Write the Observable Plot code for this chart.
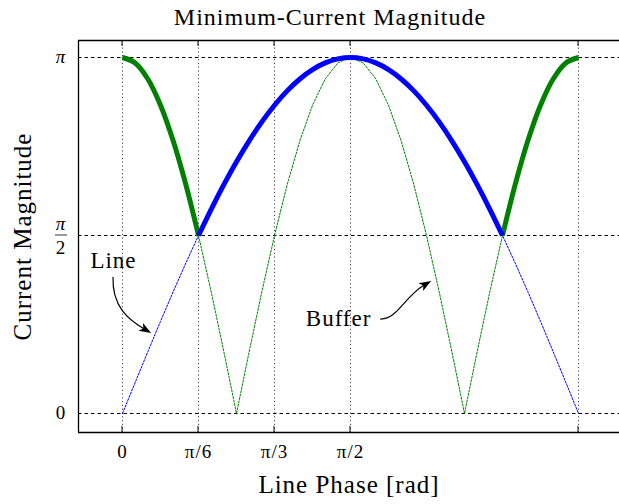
<!DOCTYPE html>
<html>
<head>
<meta charset="utf-8">
<script src="https://cdn.jsdelivr.net/npm/d3@7"></script>
<script src="https://cdn.jsdelivr.net/npm/@observablehq/plot@0.6"></script>
<style>
  html, body { margin: 0; padding: 0; background: #fff; }
  #chart svg { display: block; }
</style>
</head>
<body>
<div id="chart"></div>
<script>
// ---- data (magnitudes in units of π, phase in degrees) ----
const phaseDeg = [0,5,10,15,20,25,30,35,40,45,50,55,60,65,70,75,80,85,90,
                  95,100,105,110,115,120,125,130,135,140,145,150,155,160,165,170,175,180];
const lineMag = [0,0.0872,0.1736,0.2588,0.3420,0.4226,0.5,0.5736,0.6428,0.7071,0.7660,0.8192,0.8660,0.9063,0.9397,0.9659,0.9848,0.9962,1,
                 0.9962,0.9848,0.9659,0.9397,0.9063,0.8660,0.8192,0.7660,0.7071,0.6428,0.5736,0.5,0.4226,0.3420,0.2588,0.1736,0.0872,0];
const bufferMag = [1,0.9848,0.9397,0.8660,0.7660,0.6428,0.5,0.3420,0.1736,0,0.1736,0.3420,0.5,0.6428,0.7660,0.8660,0.9397,0.9848,1,
                   0.9848,0.9397,0.8660,0.7660,0.6428,0.5,0.3420,0.1736,0,0.1736,0.3420,0.5,0.6428,0.7660,0.8660,0.9397,0.9848,1];

const xTicks = [0, 30, 60, 90, 180];
const xTickLabels = ["0", "π/6", "π/3", "π/2", ""];
const yTicks = [0, 0.5, 1];
const yTickLabels = ["0", "π/2", "π"];
const xDomain = [-17.37, 196.18];
const yDomain = [-0.0534, 1.0478];

const titleText = "Minimum-Current Magnitude";
const xLabel = "Line Phase [rad]";
const yLabel = "Current Magnitude";

// annotation labels and arrow control points (data units)
const noteTexts = ["Line", "Buffer"];
const noteX = [-3.55, 85.3];
const noteY = [0.430, 0.267];
const arrowLinePts = [[-3.55, 0.382], [-3.95, 0.300], [2.4, 0.262], [11.5, 0.225]];
const arrowBufferPts = [[101.9, 0.264], [108.6, 0.262], [111.4, 0.326], [122.0, 0.371]];

// ---- derived tables ----
const rows = phaseDeg.map((p, i) => ({phase: p, line: lineMag[i], buffer: bufferMag[i]}));
const thickGreen = rows.map(d => ({phase: d.phase, v: d.buffer >= d.line ? d.buffer : NaN}));
const thickBlue = rows.map(d => ({phase: d.phase, v: d.line >= d.buffer ? d.line : NaN}));

const FONT = "'Liberation Serif', 'DejaVu Serif', serif";

function decorations(index, scales, values, dimensions) {
  const {x, y} = scales;
  const g = d3.create("svg:g");
  const {marginLeft, marginTop, marginBottom, height} = dimensions;
  const top = marginTop, bottom = height - marginBottom;
  // inward x ticks top and bottom
  for (const t of xTicks) {
    const px = x(t);
    g.append("line").attr("x1", px).attr("x2", px).attr("y1", top).attr("y2", top + 6)
      .attr("stroke", "#000").attr("stroke-width", 1);
    g.append("line").attr("x1", px).attr("x2", px).attr("y1", bottom).attr("y2", bottom - 6)
      .attr("stroke", "#000").attr("stroke-width", 1);
  }
  // y tick labels (with stacked fraction)
  yTicks.forEach((t, i) => {
    const py = y(t);
    const lab = yTickLabels[i];
    const cx = marginLeft - 17;
    if (lab.includes("/")) {
      const [num, den] = lab.split("/");
      g.append("text").attr("x", cx).attr("y", py - 5).attr("text-anchor", "middle")
        .attr("font-family", FONT).attr("font-size", 19).attr("font-style", "italic").text(num);
      g.append("line").attr("x1", cx - 6).attr("x2", cx + 6).attr("y1", py).attr("y2", py)
        .attr("stroke", "#000").attr("stroke-width", 0.8);
      g.append("text").attr("x", cx).attr("y", py + 19).attr("text-anchor", "middle")
        .attr("font-family", FONT).attr("font-size", 19).text(den);
    } else {
      g.append("text").attr("x", cx).attr("y", py + 6).attr("text-anchor", "middle")
        .attr("font-family", FONT).attr("font-size", 19)
        .attr("font-style", lab === "π" ? "italic" : "normal").text(lab);
    }
  });
  // arrows
  function arrow(pts) {
    const p = pts.map(([a, b]) => [x(a), y(b)]);
    const [p0, c1, c2, p3] = p;
    const ang = Math.atan2(p3[1] - c2[1], p3[0] - c2[0]);
    const L = 12, W = 4.5;
    const bx = p3[0] - L * Math.cos(ang), by = p3[1] - L * Math.sin(ang);
    g.append("path")
      .attr("d", `M${p0[0]},${p0[1]} C${c1[0]},${c1[1]} ${c2[0]},${c2[1]} ${bx + 4*Math.cos(ang)},${by + 4*Math.sin(ang)}`)
      .attr("fill", "none").attr("stroke", "#000").attr("stroke-width", 1.2);
    const nx = -Math.sin(ang), ny = Math.cos(ang);
    const back = 3;
    g.append("path")
      .attr("d", `M${p3[0]},${p3[1]} L${bx + W*nx},${by + W*ny} L${bx + back*Math.cos(ang)},${by + back*Math.sin(ang)} L${bx - W*nx},${by - W*ny} Z`)
      .attr("fill", "#000");
  }
  arrow(arrowLinePts);
  arrow(arrowBufferPts);
  return g.node();
}

const plot = Plot.plot({
  width: 619,
  height: 504,
  marginLeft: 78,
  marginRight: 0,
  marginTop: 40,
  marginBottom: 72,
  style: "font-family: 'Liberation Serif', 'DejaVu Serif', serif; letter-spacing: 1px; background: #fff; overflow: visible;",
  x: {domain: xDomain, axis: null},
  y: {domain: yDomain, axis: null},
  marks: [
    // grid
    Plot.ruleX(xTicks, {stroke: "#444", strokeWidth: 1, strokeDasharray: "1.2,2.6"}),
    Plot.ruleY(yTicks, {stroke: "#000", strokeWidth: 1, strokeDasharray: "3.5,3"}),
    // thin curves
    Plot.line(rows, {x: "phase", y: "line", stroke: "#0000ff", strokeWidth: 1, strokeDasharray: "2,1.5"}),
    Plot.line(rows, {x: "phase", y: "buffer", stroke: "#008000", strokeWidth: 1, strokeDasharray: "2,1.5"}),
    // thick maximum curve
    Plot.line(thickGreen, {x: "phase", y: "v", stroke: "#008000", strokeWidth: 5, strokeLinecap: "butt", curve: "catmull-rom"}),
    Plot.line(thickBlue, {x: "phase", y: "v", stroke: "#0000ff", strokeWidth: 5, strokeLinecap: "butt", curve: "catmull-rom"}),
    // frame (left, top, bottom)
    Plot.ruleX([xDomain[0]], {stroke: "#000", strokeWidth: 1.3}),
    Plot.ruleY(yDomain, {stroke: "#000", strokeWidth: 1.3}),
    // x tick labels
    Plot.text(xTicks, {x: d => d, text: (d, i) => xTickLabels[i], frameAnchor: "bottom", lineAnchor: "middle", dy: 19,
      fontSize: 19, fill: "#000"}),
    // annotations
    Plot.text(noteTexts, {x: (d, i) => noteX[i], y: (d, i) => noteY[i], text: d => d, fontSize: 23, fill: "#000"}),
    decorations,
    // titles
    Plot.text([titleText], {frameAnchor: "top", lineAnchor: "middle", dx: -19, dy: -23, fontSize: 24, fill: "#000"}),
    Plot.text([xLabel], {frameAnchor: "bottom", lineAnchor: "middle", dy: 52, fontSize: 25, fill: "#000"}),
    Plot.text([yLabel], {frameAnchor: "left", textAnchor: "middle", lineAnchor: "middle", dx: -56, rotate: -90, fontSize: 25, fill: "#000"})
  ]
});
document.getElementById("chart").appendChild(plot);
</script>
</body>
</html>
